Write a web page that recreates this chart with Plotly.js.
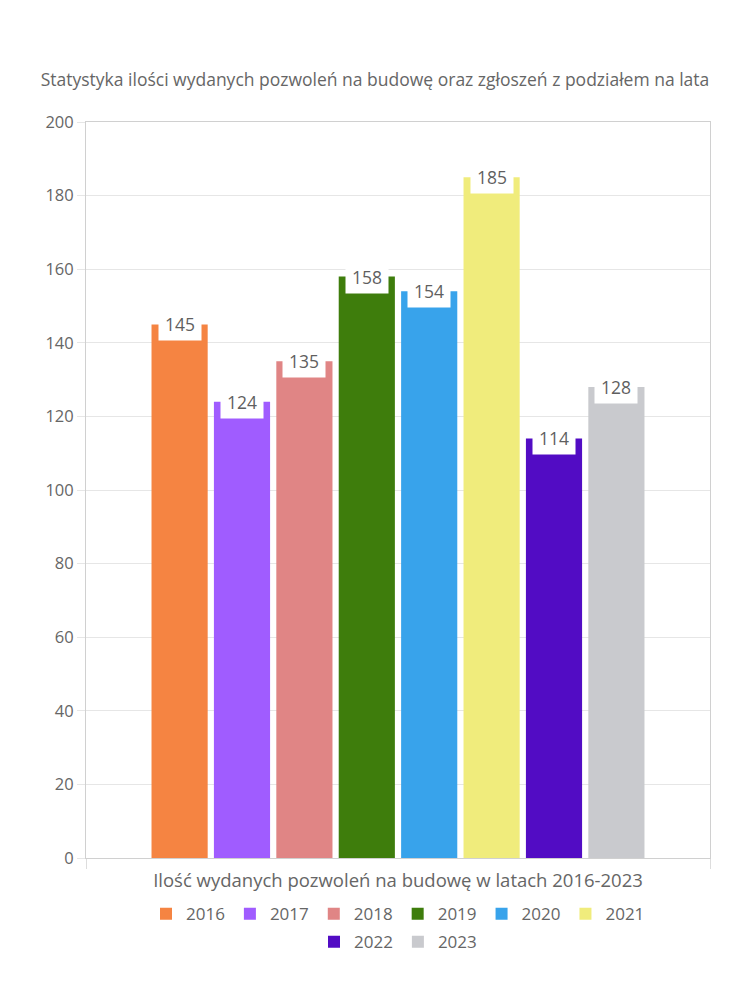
<!DOCTYPE html>
<html>
<head>
<meta charset="utf-8">
<script src="https://cdn.plot.ly/plotly-3.0.1.min.js"></script>
<style>html,body{margin:0;padding:0;background:#fff}#chart{width:750px;height:1000px}</style>
</head>
<body>
<div id="chart"></div>
<script>
const years = ['2016','2017','2018','2019','2020','2021','2022','2023'];
const values = [145, 124, 135, 158, 154, 185, 114, 128];
const colors = ['#F58442','#A05CFF','#E08585','#3E7D0C','#38A3EB','#F0EC7C','#520CC4','#C9CACE'];
const categoryLabel = 'Ilość wydanych pozwoleń na budowę w latach 2016-2023';
const chartTitle = 'Statystyka ilości wydanych pozwoleń na budowę oraz zgłoszeń z podziałem na lata';

const FONT = '"Open Sans", "Noto Sans", sans-serif';
const GREY = '#666666';

const traces = years.map((y, i) => ({
  type: 'bar',
  name: y,
  x: [i],
  y: [values[i]],
  width: 0.9,
  marker: {color: colors[i], line: {width: 0}},
  legend: i < 6 ? 'legend' : 'legend2',
  hoverinfo: 'name+y'
}));

const annotations = years.map((y, i) => ({
  x: i, y: values[i], xref: 'x', yref: 'y',
  text: String(values[i]),
  showarrow: false,
  bgcolor: '#ffffff',
  width: 40, height: 30,
  xanchor: 'center', yanchor: 'middle',
  font: {family: FONT, size: 17.5, color: '#5f5f5f'}
}));

const layout = {
  width: 750, height: 1000,
  margin: {l: 86, r: 40, t: 122, b: 142},
  paper_bgcolor: '#ffffff', plot_bgcolor: '#ffffff',
  font: {family: FONT, color: GREY},
  title: {text: chartTitle, x: 0.5, xanchor: 'center', y: 0.92, yanchor: 'middle',
          font: {family: FONT, size: 17.5, color: GREY}},
  showlegend: true,
  xaxis: {
    range: [-1.5, 8.5], fixedrange: true,
    tickvals: [-1.5, 8.5], ticktext: ['', ''],
    ticks: 'outside', ticklen: 10, tickcolor: '#dddddd',
    showgrid: false, zeroline: false,
    showline: true, linecolor: '#d0d0d0', linewidth: 1, mirror: true,
    title: {text: categoryLabel, standoff: 3, font: {family: FONT, size: 18.5, color: GREY}}
  },
  yaxis: {
    range: [0, 200], dtick: 20, fixedrange: true,
    ticks: 'outside', ticklen: 8, tickcolor: '#e6e6e6',
    gridcolor: '#e6e6e6', gridwidth: 1, zeroline: false,
    showline: true, linecolor: '#d0d0d0', linewidth: 1, mirror: true,
    tickfont: {family: FONT, size: 16.5, color: GREY}
  },
  legend: {orientation: 'h', x: 0.5, xanchor: 'center', y: -0.052, yanchor: 'top',
           font: {family: FONT, size: 17, color: GREY}, traceorder: 'normal'},
  legend2: {orientation: 'h', x: 0.5, xanchor: 'center', y: -0.09, yanchor: 'top',
           font: {family: FONT, size: 17, color: GREY}, traceorder: 'normal'},
  annotations: annotations
};

Plotly.newPlot('chart', traces, layout, {displayModeBar: false, staticPlot: true});
</script>
</body>
</html>
